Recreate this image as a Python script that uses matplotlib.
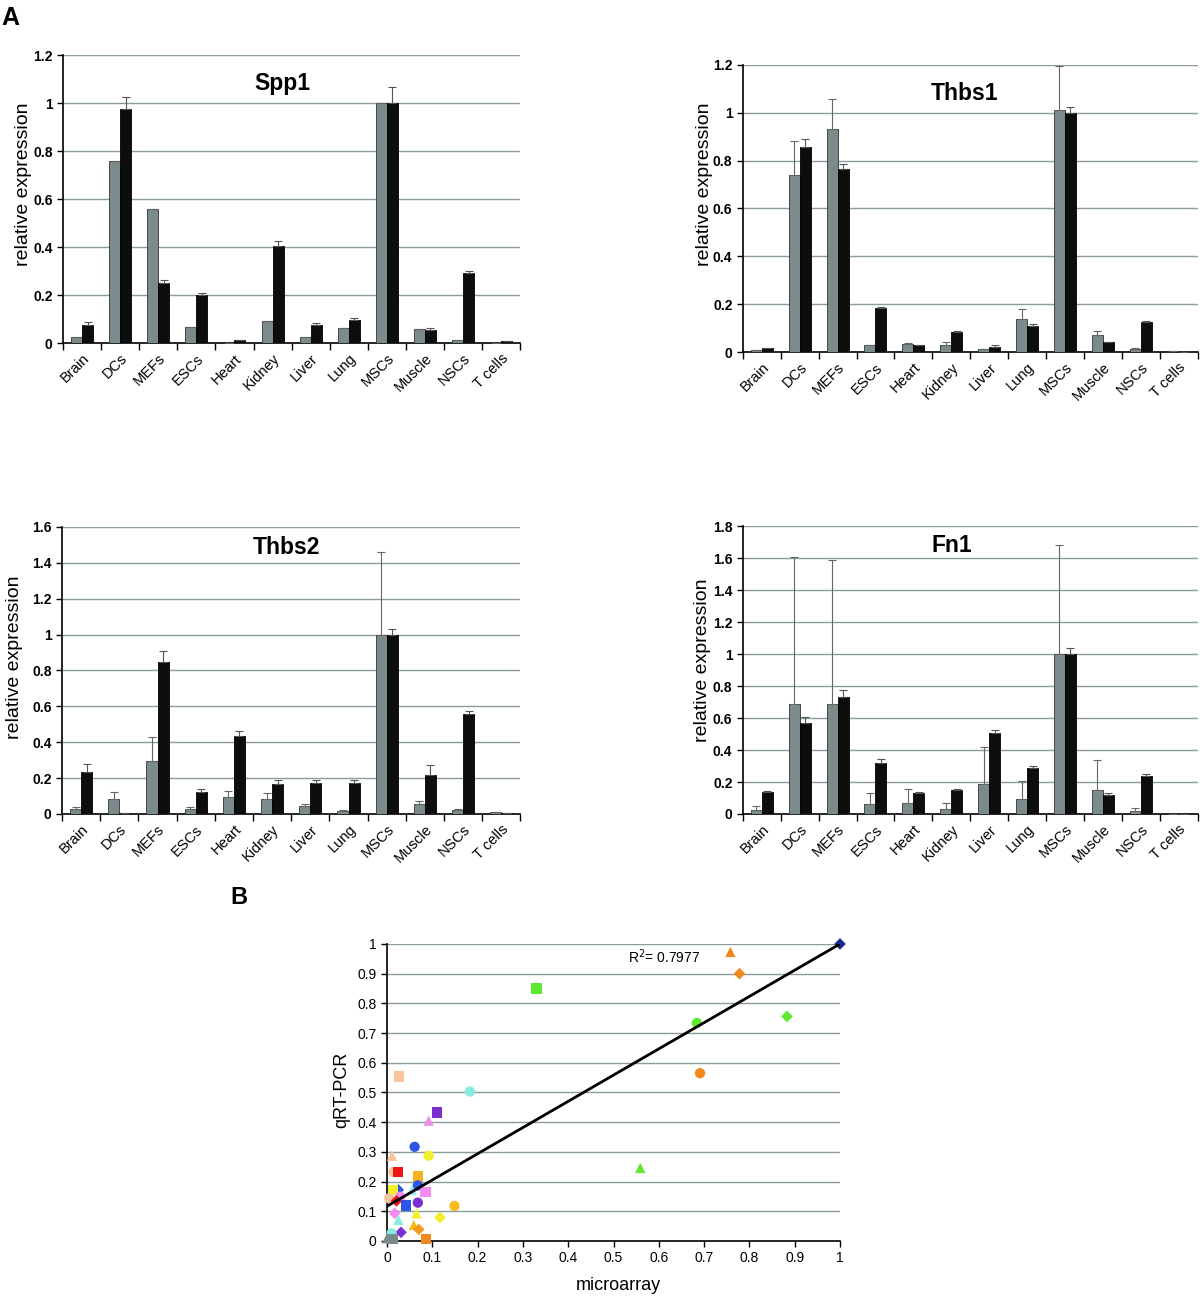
import numpy as np
import matplotlib
matplotlib.use("Agg")
import matplotlib.pyplot as plt
from matplotlib.ticker import FuncFormatter, FixedLocator

plt.rcParams['font.family'] = ['Liberation Sans', 'DejaVu Sans']

# ---- data: panel A (gray = microarray, black = qRT-PCR) ----
tissues = ["Brain", "DCs", "MEFs", "ESCs", "Heart", "Kidney", "Liver", "Lung",
           "MSCs", "Muscle", "NSCs", "T cells"]

spp1_gray = [0.025, 0.76, 0.557, 0.067, 0.0, 0.092, 0.027, 0.063, 1.0, 0.058, 0.012, 0.0]
spp1_gray_top = spp1_gray
spp1_black = [0.075, 0.977, 0.25, 0.2, 0.012, 0.405, 0.075, 0.095, 1.0, 0.055, 0.29, 0.01]
spp1_black_top = [0.086, 1.025, 0.262, 0.21, 0.012, 0.425, 0.085, 0.103, 1.067, 0.063, 0.302, 0.01]

thbs1_gray = [0.008, 0.74, 0.932, 0.028, 0.032, 0.03, 0.012, 0.138, 1.01, 0.072, 0.012, 0.004]
thbs1_gray_top = [0.008, 0.882, 1.058, 0.031, 0.038, 0.042, 0.012, 0.181, 1.195, 0.088, 0.016, 0.004]
thbs1_black = [0.015, 0.857, 0.765, 0.182, 0.03, 0.084, 0.022, 0.11, 1.0, 0.04, 0.125, 0.002]
thbs1_black_top = [0.017, 0.889, 0.784, 0.188, 0.031, 0.088, 0.028, 0.118, 1.025, 0.043, 0.13, 0.002]

thbs2_gray = [0.027, 0.085, 0.298, 0.03, 0.093, 0.082, 0.042, 0.018, 1.0, 0.058, 0.02, 0.01]
thbs2_gray_top = [0.037, 0.122, 0.43, 0.04, 0.128, 0.115, 0.058, 0.022, 1.463, 0.075, 0.028, 0.01]
thbs2_black = [0.235, 0.005, 0.85, 0.12, 0.433, 0.165, 0.172, 0.172, 1.0, 0.215, 0.555, 0.005]
thbs2_black_top = [0.278, 0.005, 0.906, 0.14, 0.461, 0.187, 0.19, 0.19, 1.033, 0.272, 0.575, 0.005]

fn1_gray = [0.025, 0.69, 0.685, 0.063, 0.067, 0.03, 0.185, 0.095, 1.0, 0.148, 0.02, 0.003]
fn1_gray_top = [0.052, 1.604, 1.585, 0.133, 0.154, 0.068, 0.42, 0.206, 1.683, 0.34, 0.038, 0.003]
fn1_black = [0.135, 0.567, 0.733, 0.318, 0.13, 0.15, 0.505, 0.288, 1.0, 0.118, 0.237, 0.001]
fn1_black_top = [0.142, 0.604, 0.775, 0.342, 0.135, 0.158, 0.525, 0.3, 1.04, 0.133, 0.25, 0.001]

# ---- data: panel B (microarray vs qRT-PCR) ----
pt_x = [0.33, 0.026, 0.183, 0.111, 0.092, 0.061, 0.092, 0.011, 0.014, 0.025, 0.068,
        0.025, 0.014, 0.068, 0.055, 0.085, 0.029, 0.005, 0.021, 0.042, 0.068, 0.149,
        0.065, 0.017, 0.025, 0.117, 0.059, 0.07, 0.031, 0.086, 0.01, 0.0, 0.012,
        1.0, 0.758, 0.778, 0.883, 0.684, 0.691, 0.559]
pt_y = [0.85, 0.554, 0.503, 0.433, 0.405, 0.317, 0.287, 0.287, 0.232, 0.232, 0.217,
        0.172, 0.171, 0.187, 0.172, 0.164, 0.149, 0.144, 0.135, 0.119, 0.129, 0.118,
        0.093, 0.093, 0.071, 0.079, 0.054, 0.039, 0.029, 0.006, 0.026, 0.009, 0.006,
        1.0, 0.973, 0.9, 0.756, 0.734, 0.565, 0.246]
pt_marker = ['s', 's', 'o', 's', '^', 'o', 'o', '^', 'o', 's', 's',
             'D', 's', 'o', '^', 's', 'o', 'o', 'D', 's', 'o', 'o',
             '^', 'D', '^', 'D', '^', 'D', 'D', 's', 'o', '^', 's',
             'D', '^', 'D', 'D', 'o', 'o', '^']
pt_color = ['#5ee830', '#f9c49c', '#86ecdf', '#7a2fd0', '#ec8ee6', '#2f55e6', '#f1f02a',
            '#f9c49c', '#f9c49c', '#ee1414', '#f5b21a',
            '#2f55e6', '#f1f02a', '#2f55e6', '#9eeef0', '#f48cf0', '#f48cf0', '#f9c49c',
            '#ee1414', '#2f55e6', '#7a2fd0', '#f7bd20',
            '#f1f02a', '#f48cf0', '#86ecdf', '#f1f02a', '#f7bd20', '#f39a20', '#7a2fd0',
            '#f08a1e', '#86ecdf', '#7a8a8a', '#7a8a8a',
            '#1a2a8e', '#f08a1e', '#f08a1e', '#5ee830', '#5ee830', '#f08a1e', '#5ee830']
fit_slope, fit_intercept = 0.883, 0.117
r2_text = "R$^2$= 0.7977"

GRAY = '#7b8b8b'
BLACK = '#0d0d0d'
GRID = '#8c9c9c'

fig = plt.figure(figsize=(12, 12.97), dpi=100)


def bar_panel(rect, title, gray, gray_top, black, black_top, ymax, title_pos, ylab_pos):
    ax = fig.add_axes(rect)
    x = np.arange(len(tissues))
    w = 0.29
    g = np.array(gray)
    b = np.array(black)
    ax.bar(x - w / 2, g, w, color=GRAY, edgecolor='#333', linewidth=0.6, zorder=3)
    ax.bar(x + w / 2, b, w, color=BLACK, edgecolor='#000', linewidth=0.6, zorder=3)
    ge = np.array(gray_top) - g
    be = np.array(black_top) - b
    ax.errorbar(x - w / 2, g, yerr=[np.zeros_like(ge), ge], fmt='none', ecolor='#666',
                elinewidth=0.8, capsize=3, capthick=0.8, zorder=4)
    ax.errorbar(x + w / 2, b, yerr=[np.zeros_like(be), be], fmt='none', ecolor='#555',
                elinewidth=0.8, capsize=3, capthick=0.8, zorder=4)
    ax.set_xlim(-0.5, len(tissues) - 0.5)
    ax.set_ylim(0, ymax)
    ticks = np.round(np.arange(0, ymax + 1e-9, 0.2), 2)
    ax.set_yticks(ticks)
    ax.yaxis.set_major_formatter(FuncFormatter(lambda v, p: f"{v:g}"))
    for t in ticks[1:]:
        ax.axhline(t, color=GRID, lw=1, zorder=1)
    ax.set_xticks(x)
    ax.set_xticklabels(tissues, rotation=45, ha='right', rotation_mode='anchor', fontsize=10.5)
    ax.xaxis.set_minor_locator(FixedLocator(np.arange(-0.5, len(tissues), 1.0)))
    ax.tick_params(axis='x', which='major', length=0, pad=6)
    ax.tick_params(axis='x', which='minor', length=5, width=1, direction='out')
    ax.tick_params(axis='y', length=4, width=1, direction='out', labelsize=10)
    for lab in ax.get_yticklabels():
        lab.set_fontweight('bold')
    for s in ['top', 'right']:
        ax.spines[s].set_visible(False)
    ax.spines['left'].set_linewidth(1.2)
    ax.spines['bottom'].set_linewidth(1.2)
    ax.set_ylabel("relative expression", fontsize=14)
    ax.yaxis.set_label_coords(*ylab_pos)
    ax.text(title_pos[0], title_pos[1], title, transform=ax.transAxes, fontsize=16.5,
            fontweight='bold', ha='center', va='center')
    return ax


bar_panel([0.0525, 0.7355, 0.381, 0.222], "Spp1", spp1_gray, spp1_gray_top,
          spp1_black, spp1_black_top, 1.2, (0.48, 0.903), (-0.068, 0.55))
bar_panel([0.619, 0.7286, 0.379, 0.2213], "Thbs1", thbs1_gray, thbs1_gray_top,
          thbs1_black, thbs1_black_top, 1.2, (0.488, 0.902), (-0.066, 0.585))
bar_panel([0.0517, 0.3724, 0.382, 0.2213], "Thbs2", thbs2_gray, thbs2_gray_top,
          thbs2_black, thbs2_black_top, 1.6, (0.49, 0.93), (-0.085, 0.547))
bar_panel([0.619, 0.3724, 0.379, 0.222], "Fn1", fn1_gray, fn1_gray_top,
          fn1_black, fn1_black_top, 1.8, (0.46, 0.934), (-0.07, 0.535))

# ---- panel B ----
ax = fig.add_axes([0.3225, 0.0432, 0.3775, 0.229])
for xv, yv, m, c in zip(pt_x, pt_y, pt_marker, pt_color):
    ax.scatter(xv, yv, marker=m, s=55 if m != 'D' else 35, color=c, edgecolors='none',
               zorder=3, clip_on=False)
lx = np.array([0.0, 1.0])
ax.plot(lx, fit_slope * lx + fit_intercept, color='black', lw=2, zorder=4)
ax.set_xlim(0, 1)
ax.set_ylim(0, 1)
ax.set_xticks(np.round(np.arange(0, 1.01, 0.1), 1))
ax.set_yticks(np.round(np.arange(0, 1.01, 0.1), 1))
ax.xaxis.set_major_formatter(FuncFormatter(lambda v, p: f"{v:g}"))
ax.yaxis.set_major_formatter(FuncFormatter(lambda v, p: f"{v:g}"))
for t in np.arange(0.1, 1.01, 0.1):
    ax.axhline(t, color=GRID, lw=1, zorder=1)
ax.tick_params(length=4, width=1, direction='out', labelsize=10)
for s in ['top', 'right']:
    ax.spines[s].set_visible(False)
ax.spines['left'].set_linewidth(1.2)
ax.spines['bottom'].set_linewidth(1.2)
ax.set_ylabel("qRT-PCR", fontsize=13)
ax.yaxis.set_label_coords(-0.082, 0.51)
ax.set_xlabel("microarray", fontsize=13)
ax.xaxis.set_label_coords(0.51, -0.121)
ax.text(0.532, 0.956, r2_text, fontsize=10, ha='left', va='center')

fig.text(1 / 1200, 1 - 18 / 1297, "A", fontsize=18, fontweight='bold', ha='left', va='center')
fig.text(230 / 1200, 1 - 897 / 1297, "B", fontsize=17, fontweight='bold', ha='left', va='center')

fig.savefig("out.png", dpi=100)
